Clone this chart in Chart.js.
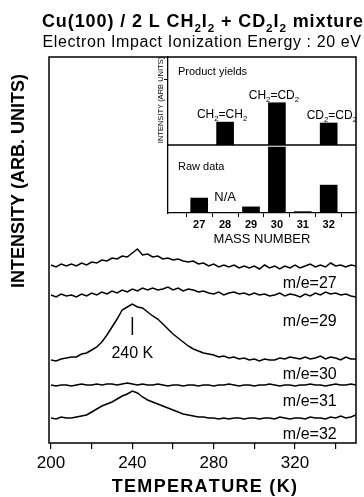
<!DOCTYPE html>
<html>
<head>
<meta charset="utf-8">
<script src="https://cdn.jsdelivr.net/npm/chart.js@4.4.0/dist/chart.umd.min.js"></script>
<style>
    html, body { margin: 0; padding: 0; background: #fff; }
    #wrap { position: relative; width: 364px; height: 497px; }
    #graficoTPD { position: absolute; left: 0; top: 0; width: 364px; height: 497px; }
    #graficoInset { position: absolute; left: 130px; top: 40px; width: 234px; height: 210px; }
</style>
</head>
<body>
<div id="wrap">
    <canvas id="graficoTPD" width="364" height="497"></canvas>
    <canvas id="graficoInset" width="234" height="210"></canvas>
</div>
<script>

// temperaturas (K)
const temperaturas = [
    200, 202.5, 205, 207.5, 210, 212.5, 215, 217.5, 220, 222.5,
    225, 227.5, 230, 232.5, 235, 237.5, 240, 242.5, 245, 247.5,
    250, 252.5, 255, 257.5, 260, 262.5, 265, 267.5, 270, 272.5,
    275, 277.5, 280, 282.5, 285, 287.5, 290, 292.5, 295, 297.5,
    300, 302.5, 305, 307.5, 310, 312.5, 315, 317.5, 320, 322.5,
    325, 327.5, 330, 332.5, 335, 337.5, 340, 342.5, 345, 347.5,
    350
];

// intensidades (unid. arb., ja deslocadas como no grafico)
const me27 = [
    178, 176, 179, 177, 179, 177, 180, 178, 181, 180,
    183, 182, 185, 184, 187, 186, 190, 194, 188, 189,
    186, 187, 184, 185, 183, 184, 182, 181, 182, 179,
    180, 177, 179, 176, 178, 176, 178, 175, 177, 175,
    177, 174, 178, 175, 177, 174, 177, 175, 178, 175,
    177, 179, 176, 178, 176, 180, 177, 178, 176, 178,
    177
];

const me29 = [
    148, 146, 149, 147, 148, 146, 149, 147, 150, 148,
    151, 149, 152, 150, 153, 151, 154, 152, 155, 153,
    155, 153, 154, 156, 153, 155, 152, 154, 153, 151,
    152, 150, 149, 151, 148, 150, 151, 149, 150, 148,
    150, 148, 149, 147, 148, 150, 147, 149, 148, 146,
    149, 147, 150, 148, 151, 149, 150, 148, 149, 147,
    146
];

const me30 = [
    83, 82, 84, 85, 86, 86, 89, 90, 93, 96,
    101, 108, 116, 124, 133, 136, 139, 136, 135, 131,
    127, 124, 119, 114, 109, 105, 101, 97, 94, 92,
    90, 89, 88, 86, 87, 85, 86, 84, 85, 83,
    84, 82, 84, 83, 83, 85, 84, 86, 85, 84,
    86, 84, 85, 87, 84, 86, 85, 83, 86, 84,
    84
];

const me31 = [
    58, 57, 58, 58, 57, 58, 59, 58, 58, 59,
    58, 59, 59, 58, 59, 60, 59, 58, 59, 58,
    58, 59, 58, 57, 58, 58, 57, 58, 58, 57,
    58, 58, 57, 58, 58, 59, 58, 57, 58, 58,
    57, 58, 58, 59, 58, 57, 58, 58, 57, 58,
    58, 59, 58, 58, 57, 58, 59, 58, 58, 59,
    58
];

const me32 = [
    25, 24, 26, 25, 25, 26, 27, 28, 31, 34,
    37, 39, 41, 44, 47, 49, 52, 50, 46, 43,
    41, 39, 37, 35, 33, 31, 29, 28, 27, 26,
    26, 25, 25, 24, 25, 24, 25, 25, 24, 25,
    25, 24, 25, 25, 24, 26, 25, 24, 25, 25,
    24, 26, 25, 25, 24, 26, 25, 27, 25, 26,
    28
];

const rotulosMassa = ["m/e=27", "m/e=29", "m/e=30", "m/e=31", "m/e=32"];

// inset
const massas = [27, 28, 29, 30, 31, 32];
const rendimentos = [null, 26, null, 48, null, 25];
const dadosBrutos = [22, null, 9, 97, 2, 41];
const produtos = ["", "CH_2=CH_2", "", "CH_2=CD_2", "", "CD_2=CD_2"];


Chart.defaults.font.family = '"Liberation Sans", Arial, Helvetica, sans-serif';
Chart.defaults.color = "#000";

function fonte(tamanho, peso) {
    return (peso || "normal") + " " + tamanho + 'px "Liberation Sans", Arial, Helvetica, sans-serif';
}

// '_' marca o caractere seguinte como subscrito
function escreverTexto(ctx, texto, x, y, tamanho, peso, alinhamento, espaco) {

    let partes = [];

    for (let i = 0; i < texto.length; i++) {
        if (texto[i] === "_") {
            partes.push({ t: texto[i + 1], sub: true });
            i++;
        } else {
            partes.push({ t: texto[i], sub: false });
        }
    }

    ctx.save();
    ctx.fillStyle = "#000";
    ctx.textAlign = "left";
    ctx.textBaseline = "alphabetic";
    if ("letterSpacing" in ctx) ctx.letterSpacing = (espaco || 0) + "px";

    let largura = 0;

    partes.forEach(function(p) {
        ctx.font = fonte(p.sub ? tamanho * 0.65 : tamanho, peso);
        p.w = ctx.measureText(p.t).width;
        largura += p.w;
    });

    let cx = x;
    if (alinhamento === "center") cx = x - largura / 2;
    if (alinhamento === "right") cx = x - largura;

    partes.forEach(function(p) {
        ctx.font = fonte(p.sub ? tamanho * 0.65 : tamanho, peso);
        ctx.fillText(p.t, cx, y + (p.sub ? tamanho * 0.28 : 0));
        cx += p.w;
    });

    ctx.restore();
}

function textoVertical(ctx, texto, x, y, tamanho, peso, espaco) {
    ctx.save();
    ctx.translate(x, y);
    ctx.rotate(-Math.PI / 2);
    escreverTexto(ctx, texto, 0, tamanho * 0.36, tamanho, peso, "center", espaco);
    ctx.restore();
}


const molduraPlugin = {
    id: "moldura",
    afterDraw: function(chart) {

        const ctx = chart.ctx;
        const area = chart.chartArea;
        const xs = chart.scales.x;
        const ys = chart.scales.y;

        ctx.save();
        ctx.strokeStyle = "#000";
        ctx.lineWidth = 1.5;
        ctx.strokeRect(area.left, area.top, area.right - area.left, area.bottom - area.top);

        // marca do pico
        ctx.lineWidth = 1.5;
        ctx.beginPath();
        ctx.moveTo(xs.getPixelForValue(240), ys.getPixelForValue(126));
        ctx.lineTo(xs.getPixelForValue(240), ys.getPixelForValue(108));
        ctx.stroke();
        ctx.restore();

        escreverTexto(ctx, "240 K", xs.getPixelForValue(240), ys.getPixelForValue(85), 16, "normal", "center");

        const alturas = [155, 117, 64, 37, 4];
        rotulosMassa.forEach(function(r, i) {
            escreverTexto(ctx, r, xs.getPixelForValue(340.5), ys.getPixelForValue(alturas[i]), 16, "normal", "right");
        });

        // titulos
        escreverTexto(ctx, "Cu(100) / 2 L CH_2I_2 + CD_2I_2 mixture", 203, 27, 18, "bold", "center", 0.9);
        escreverTexto(ctx, "Electron Impact Ionization Energy : 20 eV", 202, 47, 16, "normal", "center", 0.6);

        textoVertical(ctx, "INTENSITY (ARB. UNITS)", 18, 181, 18, "bold", 0);
        escreverTexto(ctx, "TEMPERATURE (K)", 205, 492, 18, "bold", "center", 1.3);
    }
};

const insetPlugin = {
    id: "insetTextos",
    afterDraw: function(chart) {

        const ctx = chart.ctx;
        const area = chart.chartArea;
        const xs = chart.scales.x;
        const yp = chart.scales.yProd;
        const yr = chart.scales.yRaw;

        ctx.save();
        ctx.strokeStyle = "#000";
        ctx.lineWidth = 1.3;
        ctx.beginPath();
        ctx.moveTo(area.left, yr.top);
        ctx.lineTo(area.right, yr.top);
        ctx.stroke();
        ctx.restore();

        escreverTexto(ctx, "Product yields", area.left + 10, yp.getPixelForValue(79), 11, "normal", "left");
        escreverTexto(ctx, "Raw data", area.left + 10, yr.getPixelForValue(63), 11, "normal", "left");
        escreverTexto(ctx, "N/A", xs.getPixelForValue(28), yr.getPixelForValue(17), 13, "normal", "center");

        produtos.forEach(function(p, i) {
            if (!p) return;
            let topo = yp.getPixelForValue(rendimentos[i]) - 4;
            if (i === produtos.length - 1) {
                escreverTexto(ctx, p, area.right + 1, topo, 12, "normal", "right");
            } else {
                escreverTexto(ctx, p, xs.getPixelForValue(massas[i]) - 3, topo, 12, "normal", "center");
            }
        });

        textoVertical(ctx, "INTENSITY (ARB UNITS)", 30, 60, 7.5, "normal", 0);
    }
};


function criarGraficoTPD() {

    const ctx = document.getElementById("graficoTPD");

    if (!ctx) return;

    const series = [me27, me29, me30, me31, me32];

    new Chart(ctx, {

        type: "line",

        data: {
            labels: temperaturas,
            datasets: series.map(function(s, i) {
                return {
                    label: rotulosMassa[i],
                    data: s,
                    borderColor: "#000",
                    borderWidth: 1.5,
                    pointRadius: 0,
                    tension: 0,
                    fill: false
                };
            })
        },

        options: {
            responsive: false,
            animation: false,

            layout: {
                padding: { left: 49, top: 57, right: 8, bottom: 0 }
            },

            plugins: {
                legend: { display: false },
                tooltip: { enabled: false }
            },

            scales: {
                x: {
                    type: "linear",
                    min: 199,
                    max: 350,
                    afterFit: function(s) { s.height = 54; },
                    ticks: {
                        stepSize: 20,
                        includeBounds: false,
                        autoSkip: false,
                        maxRotation: 0,
                        padding: 4,
                        color: "#000",
                        font: { size: 17 },
                        callback: function(v) {
                            return v % 40 === 0 ? String(v) : "";
                        }
                    },
                    grid: {
                        drawOnChartArea: false,
                        tickLength: 6,
                        color: "#000",
                        lineWidth: 1.2
                    },
                    border: { display: false }
                },

                y: {
                    display: false,
                    min: 0,
                    max: 386
                }
            }
        },

        plugins: [molduraPlugin]
    });
}


function criarGraficoInset() {

    const ctx = document.getElementById("graficoInset");

    if (!ctx) return;

    new Chart(ctx, {

        type: "bar",

        data: {
            datasets: [
                {
                    label: "Product yields",
                    data: massas.map(function(m, i) { return { x: m, y: rendimentos[i] }; }),
                    yAxisID: "yProd",
                    backgroundColor: "#000",
                    barThickness: 17,
                    grouped: false
                },
                {
                    label: "Raw data",
                    data: massas.map(function(m, i) { return { x: m, y: dadosBrutos[i] }; }),
                    yAxisID: "yRaw",
                    backgroundColor: "#000",
                    barThickness: 17,
                    grouped: false
                }
            ]
        },

        options: {
            responsive: false,
            animation: false,

            layout: {
                padding: { left: 0, top: 17, right: 8, bottom: 0 }
            },

            plugins: {
                legend: { display: false },
                tooltip: { enabled: false }
            },

            scales: {
                x: {
                    type: "linear",
                    min: 26.4,
                    max: 32.45,
                    afterFit: function(s) { s.height = 37; },
                    ticks: {
                        stepSize: 1,
                        includeBounds: false,
                        autoSkip: false,
                        maxRotation: 0,
                        padding: 1,
                        color: "#000",
                        font: { size: 11, weight: "bold" }
                    },
                    grid: {
                        drawOnChartArea: false,
                        tickLength: 4,
                        color: "#000"
                    },
                    border: { color: "#000", width: 1.3 },
                    title: {
                        display: true,
                        text: "MASS NUMBER",
                        color: "#000",
                        font: { size: 13 },
                        padding: { top: 0, bottom: 3 }
                    }
                },

                // o primeiro eixo definido fica embaixo na pilha
                yRaw: {
                    type: "linear",
                    position: "left",
                    stack: "inset",
                    stackWeight: 68,
                    min: 0,
                    max: 100,
                    afterFit: function(s) { s.width = 38; },
                    ticks: { display: false },
                    grid: { display: false },
                    border: { color: "#000", width: 1.3 }
                },

                yProd: {
                    type: "linear",
                    position: "left",
                    stack: "inset",
                    stackWeight: 88,
                    min: 0,
                    max: 100,
                    afterFit: function(s) { s.width = 38; },
                    afterBuildTicks: function(s) { s.ticks = [{ value: 75 }]; },
                    ticks: { display: false },
                    grid: { drawOnChartArea: false, tickLength: 4, color: "#000" },
                    border: { color: "#000", width: 1.3 }
                }
            }
        },

        plugins: [insetPlugin]
    });
}

criarGraficoTPD();
criarGraficoInset();

</script>
</body>
</html>
